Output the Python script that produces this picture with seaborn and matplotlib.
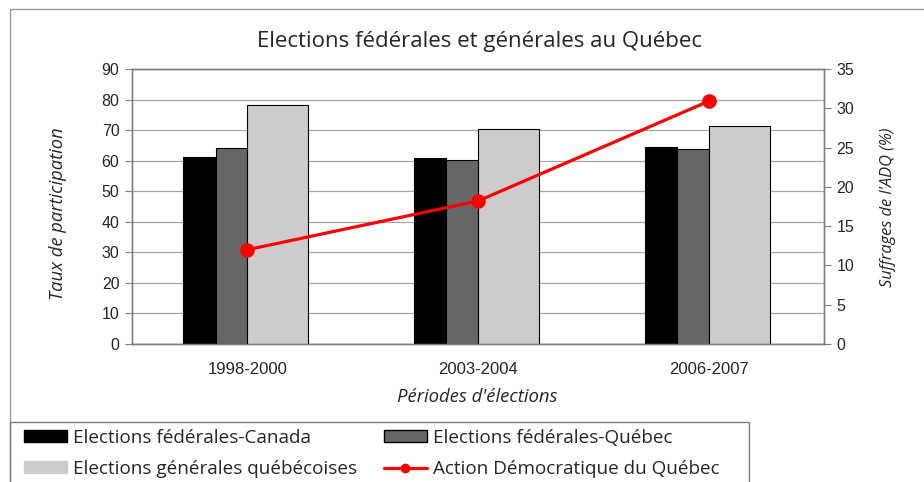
import numpy as np
import pandas as pd
import matplotlib.pyplot as plt
import seaborn as sns
from matplotlib.patches import Patch, Rectangle
from matplotlib.lines import Line2D

# data
periods = ['1998-2000', '2003-2004', '2006-2007']
fed_canada = [61.2, 61.0, 64.6]
fed_quebec = [64.1, 60.3, 63.9]
gen_quebec = [78.1, 70.3, 71.3]
adq = [12.0, 18.2, 30.9]

series_names = ['Elections fédérales-Canada', 'Elections fédérales-Québec',
                'Elections générales québécoises', 'Action Démocratique du Québec']

sns.set_style('white')
plt.rcParams['font.family'] = ['Open Sans', 'DejaVu Sans']

fig = plt.figure(figsize=(9.24, 4.82), dpi=100)
ax = fig.add_axes([132 / 924, 1 - 344 / 482, 692 / 924, 275 / 482])

x = np.arange(len(periods))
# bar layout (category units), Excel-style uneven widths
ax.bar(x - 0.277, fed_canada, width=0.139, align='edge', color='#000000',
       edgecolor='#000000', linewidth=0.8, zorder=3)
ax.bar(x - 0.138, fed_quebec, width=0.138, align='edge', color='#666666',
       edgecolor='#000000', linewidth=0.8, zorder=3)
ax.bar(x, gen_quebec, width=0.265, align='edge', color='#cccccc',
       edgecolor='#000000', linewidth=0.8, zorder=3)

ax.set_xlim(-0.5, 2.5)
ax.set_ylim(0, 90)
ax.set_yticks(range(0, 91, 10))
ax.yaxis.grid(True, color='#a6a6a6', linewidth=0.9, zorder=0)
ax.set_axisbelow(True)

ax.set_xticks([-0.5, 0.5, 1.5, 2.5])
ax.set_xticklabels([])
ax.set_xticks(x, minor=True)
ax.set_xticklabels(periods, minor=True)
ax.tick_params(axis='x', which='major', length=4, color='#808080', direction='out')
ax.tick_params(axis='x', which='minor', length=0, pad=13, labelsize=12)
ax.tick_params(axis='y', length=5, color='#808080', direction='out', labelsize=11.5, pad=4)
for lab in ax.get_yticklabels() + ax.get_xticklabels(minor=True):
    lab.set_fontfamily('Liberation Sans')
for s in ax.spines.values():
    s.set_color('#808080')
    s.set_linewidth(1.0)

ax2 = ax.twinx()
df_line = pd.DataFrame({'pos': x, 'adq': adq})
sns.lineplot(data=df_line, x='pos', y='adq', ax=ax2, color='#ff0000', linewidth=2.3,
             marker='o', markersize=10.5, markeredgewidth=0, zorder=5)
ax2.set_ylim(0, 35)
ax2.set_yticks(range(0, 36, 5))
ax2.set_xlim(-0.5, 2.5)
ax2.set_xlabel('')
ax2.set_ylabel('')
ax2.tick_params(axis='y', length=5, color='#808080', direction='out', labelsize=11.5, pad=4)
for lab in ax2.get_yticklabels():
    lab.set_fontfamily('Liberation Sans')
for s in ax2.spines.values():
    s.set_color('#808080')
    s.set_linewidth(1.0)

fig.text(480 / 924, 1 - 42 / 482, 'Elections fédérales et générales au Québec',
         ha='center', va='center', fontsize=16)
fig.text(58 / 924, 1 - 214 / 482, 'Taux de participation', rotation=90,
         ha='center', va='center', fontsize=13.2, style='italic')
fig.text(888 / 924, 1 - 207 / 482, "Suffrages de l'ADQ (%)", rotation=90,
         ha='center', va='center', fontsize=11.8, style='italic')
fig.text(477 / 924, 1 - 397 / 482, "Périodes d'élections",
         ha='center', va='center', fontsize=13.3, style='italic')

# outer chart border and legend box (cropped in the reference)
fig.patches.append(Rectangle((10 / 924, -0.1), 1.0, 1 - 9 / 482 + 0.1,
                             transform=fig.transFigure, fill=False,
                             edgecolor='#999999', linewidth=1.0))
fig.patches.append(Rectangle((10 / 924, -0.1), 739 / 924, 1 - 422 / 482 + 0.1,
                             transform=fig.transFigure, fill=False,
                             edgecolor='#808080', linewidth=1.0))

handles = [
    Patch(facecolor='#000000', edgecolor='#000000'),
    Patch(facecolor='#cccccc', edgecolor='#cccccc'),
    Patch(facecolor='#666666', edgecolor='#000000'),
    Line2D([], [], color='#ff0000', linewidth=2.3, marker='o', markersize=6),
]
labels = [series_names[0], series_names[2], series_names[1], series_names[3]]
fig.legend(handles, labels, loc='upper left', bbox_to_anchor=(24 / 924, 1 - 429 / 482),
           ncol=2, frameon=False, fontsize=13.6, handlelength=2.3, handleheight=0.6,
           handletextpad=0.3, columnspacing=1.4, labelspacing=0.68, borderpad=0,
           borderaxespad=0)

fig.savefig('out.png', dpi=100)
